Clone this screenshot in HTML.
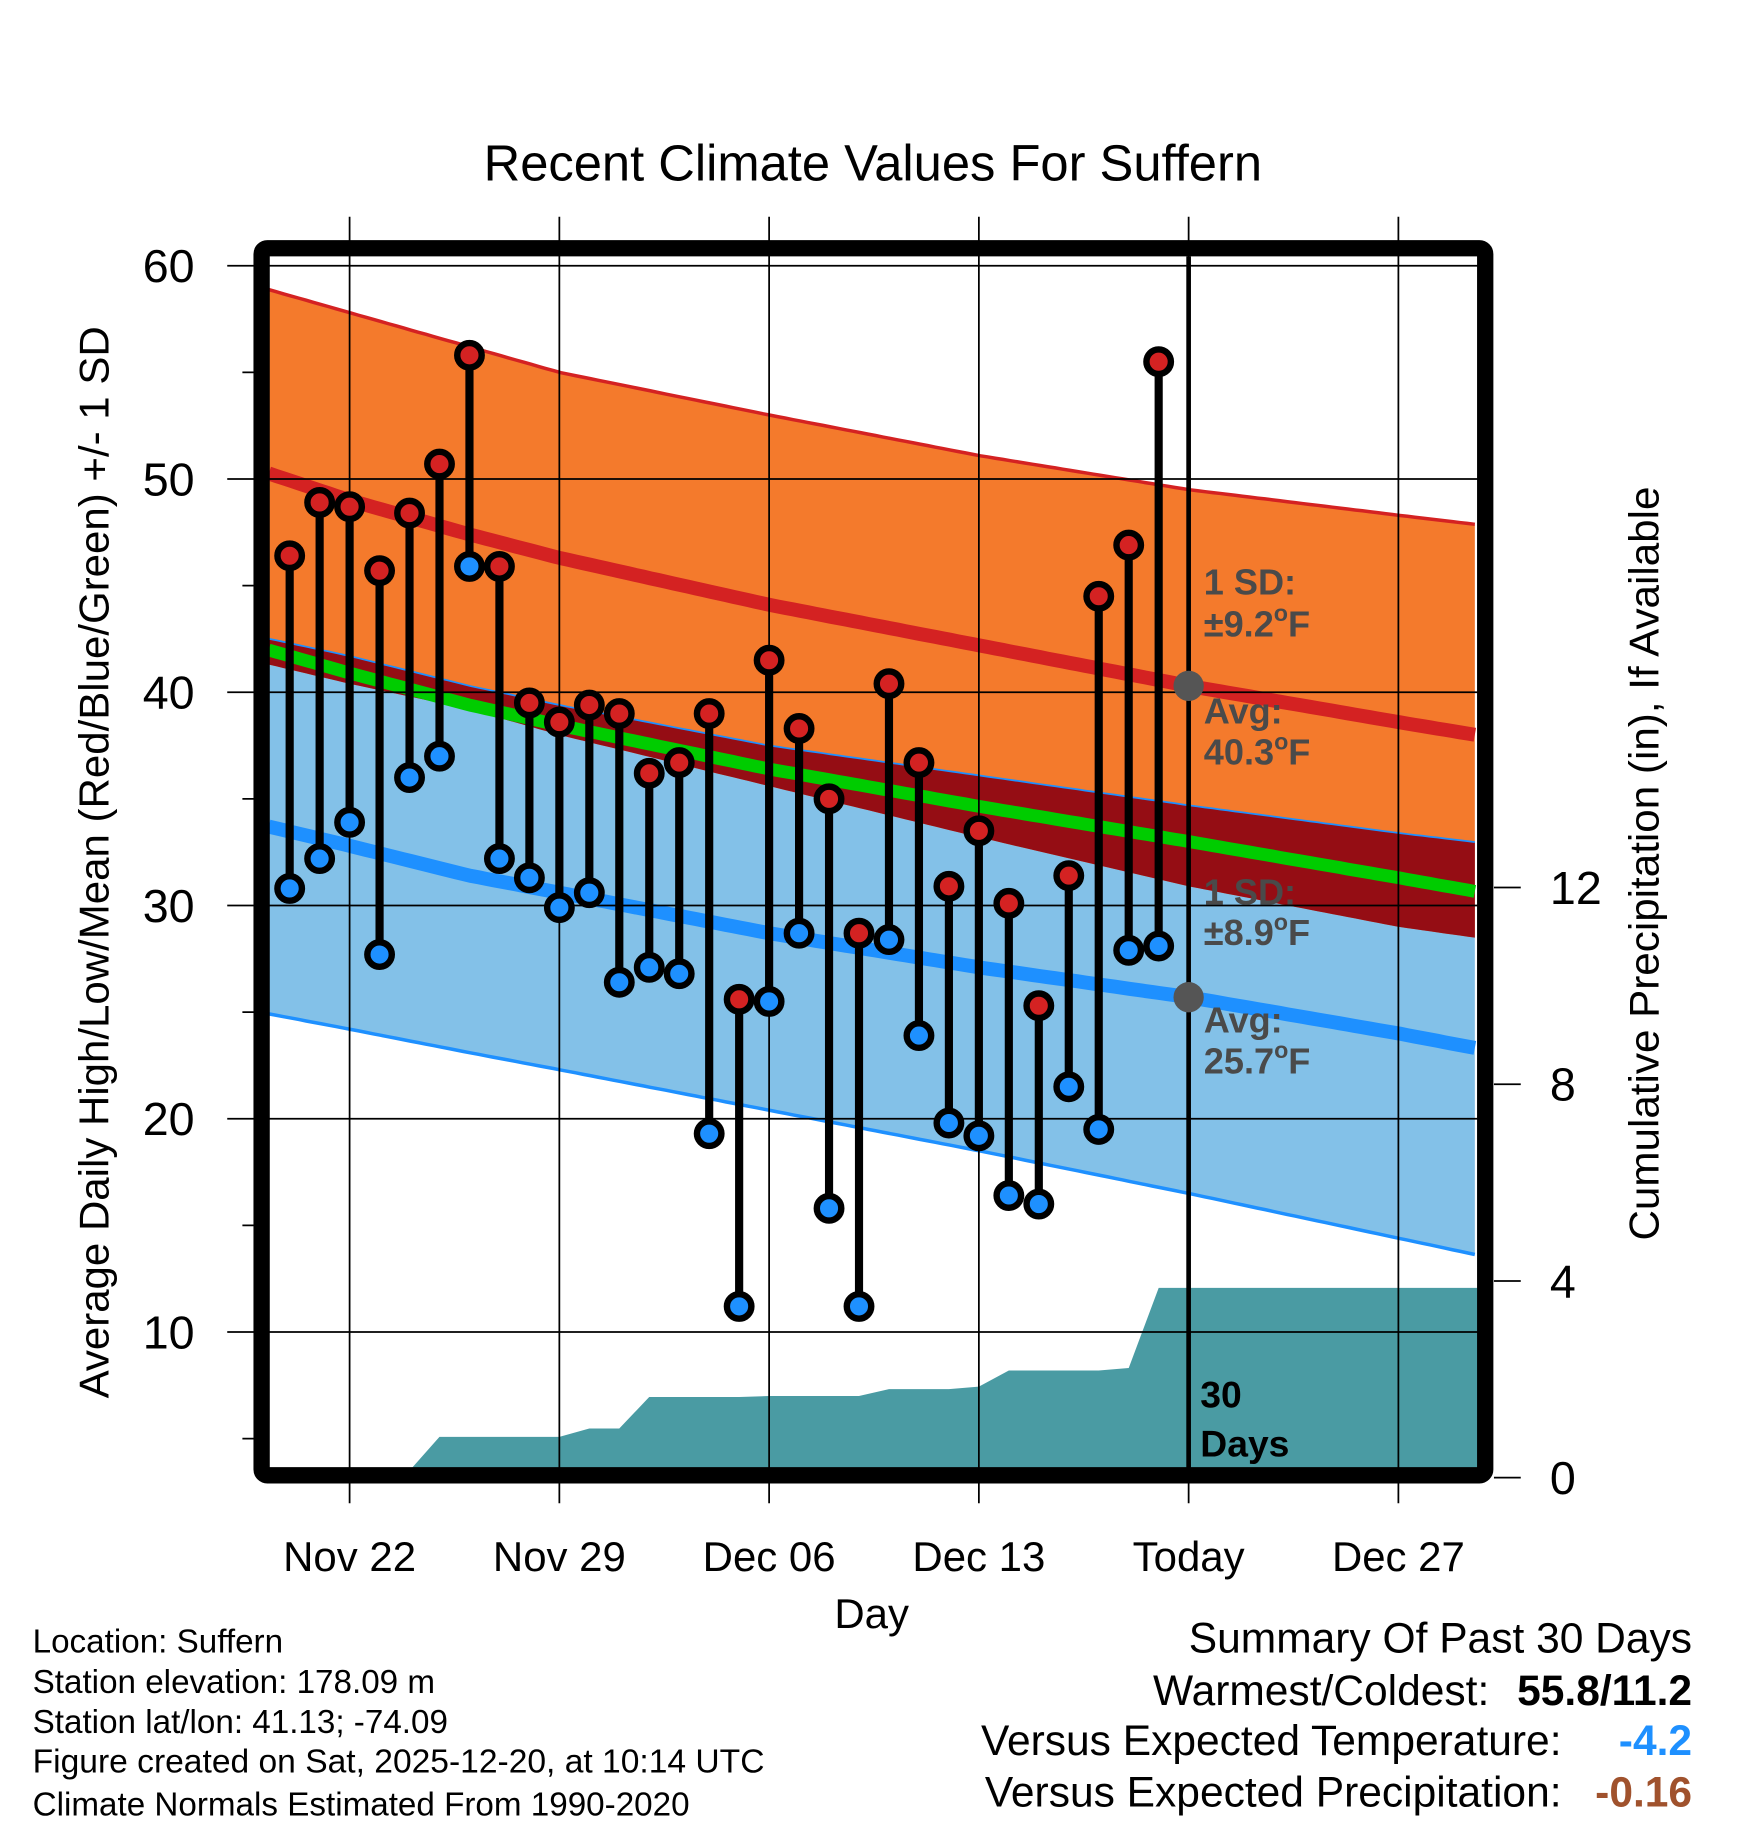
<!DOCTYPE html>
<html><head><meta charset="utf-8"><style>
html,body{margin:0;padding:0;background:#fff;}
svg{display:block;font-family:"Liberation Sans",Arial,sans-serif;}
</style></head><body>
<svg id="chart" width="1748" height="1828" viewBox="0 0 1500 1568.6" xmlns="http://www.w3.org/2000/svg">
<defs><clipPath id="plotclip"><rect x="231" y="220" width="1037" height="1040"/></clipPath></defs>
<g id="fills" clip-path="url(#plotclip)"></g>
<g id="grid"></g>
<g id="marks" clip-path="url(#plotclip)"></g>
<g id="frame"></g>
<g id="axes"></g>
<text x="749" y="155" font-size="43.5" text-anchor="middle" textLength="668" lengthAdjust="spacingAndGlyphs">Recent Climate Values For Suffern</text>
<text x="748" y="1397" font-size="36" text-anchor="middle">Day</text>
<text transform="translate(93,740) rotate(-90)" font-size="36" text-anchor="middle" textLength="920" lengthAdjust="spacingAndGlyphs">Average Daily High/Low/Mean (Red/Blue/Green) +/- 1 SD</text>
<text transform="translate(1423,741) rotate(-90)" font-size="36" text-anchor="middle" textLength="647" lengthAdjust="spacingAndGlyphs">Cumulative Precipitation (in), If Available</text>
<g font-size="28.5">
<text x="28" y="1418">Location: Suffern</text>
<text x="28" y="1453">Station elevation: 178.09 m</text>
<text x="28" y="1487">Station lat/lon: 41.13; -74.09</text>
<text x="28" y="1521" textLength="628" lengthAdjust="spacingAndGlyphs">Figure created on Sat, 2025-12-20, at 10:14 UTC</text>
<text x="28" y="1558">Climate Normals Estimated From 1990-2020</text>
</g>
<g font-size="36.5">
<text x="1452" y="1418" text-anchor="end">Summary Of Past 30 Days</text>
<text x="1278" y="1463" text-anchor="end">Warmest/Coldest:</text>
<text x="1452" y="1463" text-anchor="end" font-weight="bold">55.8/11.2</text>
<text x="1340" y="1506" text-anchor="end">Versus Expected Temperature:</text>
<text x="1452" y="1506" text-anchor="end" font-weight="bold" fill="#1e90ff">-4.2</text>
<text x="1340" y="1550" text-anchor="end">Versus Expected Precipitation:</text>
<text x="1452" y="1550" text-anchor="end" font-weight="bold" fill="#a0522d">-0.16</text>
</g>
</svg>
<script>
// days relative to Nov 22 (d=0)
const normalDays = [-3, 0, 4, 7, 14, 21, 28, 35, 38];
const highMean = [50.4, 49.0, 47.4, 46.3, 44.1, 42.2, 40.3, 38.6, 37.9];
const lowMean = [33.8, 32.8, 31.4, 30.6, 28.7, 27.1, 25.7, 24.0, 23.2];
const highUpper = [59.0, 57.8, 56.2, 55.0, 53.0, 51.1, 49.5, 48.3, 47.8];
const highLower = [41.4, 40.4, 39.2, 38.0, 35.6, 33.2, 30.9, 29.0, 28.4];
const lowUpper = [42.6, 41.7, 40.3, 39.4, 37.5, 36.1, 34.7, 33.4, 32.9];
const lowLower = [25.0, 24.2, 23.1, 22.3, 20.4, 18.5, 16.5, 14.4, 13.5];
const obsDays = [-2,-1,0,1,2,3,4,5,6,7,8,9,10,11,12,13,14,15,16,17,18,19,20,21,22,23,24,25,26,27];
const obsHigh = [46.4,48.9,48.7,45.7,48.4,50.7,55.8,45.9,39.5,38.6,39.4,39.0,36.2,36.7,39.0,25.6,41.5,38.3,35.0,28.7,40.4,36.7,30.9,33.5,30.1,25.3,31.4,44.5,46.9,55.5];
const obsLow = [30.8,32.2,33.9,27.7,36.0,37.0,45.9,32.2,31.3,29.9,30.6,26.4,27.1,26.8,19.3,11.2,25.5,28.7,15.8,11.2,28.4,23.9,19.8,19.2,16.4,16.0,21.5,19.5,27.9,28.1];
const precipCum = [0,0,0,0,0,0.83,0.83,0.83,0.83,0.83,1.0,1.0,1.64,1.64,1.64,1.64,1.66,1.66,1.66,1.66,1.8,1.8,1.8,1.85,2.18,2.18,2.18,2.18,2.23,3.86];
const xTickDays = [0,7,14,21,28,35];
const xTickLabels = ["Nov 22","Nov 29","Dec 06","Dec 13","Today","Dec 27"];
const yTicks = [10,20,30,40,50,60];
const y2Ticks = [0,4,8,12];

const NS="http://www.w3.org/2000/svg";
const X = d => 300 + 25.714*d;
const Y = v => 228 + (60 - v)*18.3;
const Y2 = p => 1268 - p*42.2;
const D0 = -2.7, D1 = 37.7;
function mk(tag, attrs, parent){const e=document.createElementNS(NS,tag);for(const k in attrs)e.setAttribute(k,attrs[k]);parent.appendChild(e);return e;}
function interp(arr,d){for(let i=0;i<normalDays.length-1;i++){if(d<=normalDays[i+1]){const t=(d-normalDays[i])/(normalDays[i+1]-normalDays[i]);return arr[i]+t*(arr[i+1]-arr[i]);}}return arr[arr.length-1];}
const samples=[];for(let d=D0;d<=D1+0.001;d+=0.25)samples.push(d);
const curve = f => samples.map(d=>[X(d),Y(f(d))]);
const pts = a => a.map(p=>p[0].toFixed(1)+','+p[1].toFixed(1)).join(' ');
const fills=document.getElementById('fills');
const hiU=curve(d=>interp(highUpper,d)), hiL=curve(d=>interp(highLower,d));
const loU=curve(d=>interp(lowUpper,d)), loL=curve(d=>interp(lowLower,d));
let e;
e=mk('polygon',{points:pts(loU.concat(loL.slice().reverse())),fill:'#83c1e8'},fills);

e=mk('polygon',{points:pts(hiU.concat(hiL.slice().reverse())),fill:'#f47a2c'},fills);

e=mk('polygon',{points:pts(loU.concat(hiL.slice().reverse())),fill:'#950d14'},fills);

e=mk('polyline',{points:pts(hiU),fill:'none',stroke:'#d42222','stroke-width':3},fills);

e=mk('polyline',{points:pts(loU),fill:'none',stroke:'#1e90ff','stroke-width':1.5},fills);

e=mk('polyline',{points:pts(loL),fill:'none',stroke:'#1e90ff','stroke-width':3},fills);

e=mk('polyline',{points:pts(curve(d=>interp(highMean,d))),fill:'none',stroke:'#d42222','stroke-width':12},fills);

e=mk('polyline',{points:pts(curve(d=>interp(lowMean,d))),fill:'none',stroke:'#1e90ff','stroke-width':12},fills);

e=mk('polyline',{points:pts(curve(d=>(interp(highMean,d)+interp(lowMean,d))/2)),fill:'none',stroke:'#00cc00','stroke-width':11},fills);

// precip
const pp=[[X(obsDays[0]-1),1262]];
obsDays.forEach((d,i)=>pp.push([X(d),Math.min(Y2(precipCum[i]),1262)]));
pp.push([X(D1),Y2(precipCum[precipCum.length-1])]);pp.push([X(D1),1262]);
e=mk('polygon',{points:pts(pp),fill:'#4a9ba3'},fills);

// grid
const grid=document.getElementById('grid');
yTicks.forEach(v=>{e=mk('line',{x1:231,x2:1268,y1:Y(v),y2:Y(v),stroke:'#000','stroke-width':1.5},grid);
});
xTickDays.forEach(d=>{e=mk('line',{x1:X(d),x2:X(d),y1:186,y2:1290,stroke:'#000','stroke-width':1.5},grid);
});
// marks
const marks=document.getElementById('marks');
e=mk('line',{x1:X(28),x2:X(28),y1:220,y2:1260,stroke:'#000','stroke-width':4},marks);

obsDays.forEach((d,i)=>{
 e=mk('line',{x1:X(d),x2:X(d),y1:Y(obsHigh[i]),y2:Y(obsLow[i]),stroke:'#000','stroke-width':7},marks);
 
});
obsDays.forEach((d,i)=>{
 e=mk('circle',{cx:X(d),cy:Y(obsLow[i]),r:10.5,fill:'#1e90ff',stroke:'#000','stroke-width':5.5},marks);
 
 e=mk('circle',{cx:X(d),cy:Y(obsHigh[i]),r:10.5,fill:'#d42222',stroke:'#000','stroke-width':5.5},marks);
 
});
e=mk('circle',{cx:X(28),cy:Y(interp(highMean,28)),r:13,fill:'#555'},marks);

e=mk('circle',{cx:X(28),cy:Y(interp(lowMean,28)),r:13,fill:'#555'},marks);

const ann=[["1 SD:",510,false],["±9.2","F",546],["Avg:",621,false],["40.3","F",656],["1 SD:",776,false],["±8.9","F",811],["Avg:",886,false],["25.7","F",921]];
ann.forEach(a=>{const y=a.length===3&&a[2]!==false?a[2]:a[1];
 e=mk('text',{x:1033,y:y,'font-size':31,'font-weight':'bold',fill:'#4a4a4a'},marks);
 
 if(a[2]===false){e.textContent=a[0];}
 else{e.appendChild(document.createTextNode(a[0]));
  const s=mk('tspan',{'font-size':20,dy:-13},e);s.textContent='o';
  const f=mk('tspan',{dy:13},e);f.textContent=a[1];}
});
[["30",1208],["Days",1250]].forEach(a=>{e=mk('text',{x:1030,y:a[1],'font-size':32,'font-weight':'bold',fill:'#000'},marks);e.textContent=a[0];
});
// frame
const frame=document.getElementById('frame');
e=mk('rect',{x:224.5,y:213,width:1050,height:1053,rx:5,fill:'none',stroke:'#000','stroke-width':14},frame);

// axes
const axes=document.getElementById('axes');
yTicks.forEach(v=>{e=mk('line',{x1:195,x2:218,y1:Y(v),y2:Y(v),stroke:'#000','stroke-width':1.5},axes);

e=mk('text',{x:167,y:Y(v)+14,'font-size':40,'text-anchor':'end'},axes);e.textContent=v;

e=mk('line',{x1:208,x2:218,y1:Y(v-5),y2:Y(v-5),stroke:'#000','stroke-width':1.5},axes);
});
y2Ticks.forEach(p=>{e=mk('line',{x1:1282,x2:1305,y1:Y2(p),y2:Y2(p),stroke:'#000','stroke-width':1.5},axes);

e=mk('text',{x:1330,y:Y2(p)+14,'font-size':40},axes);e.textContent=p;
});
xTickDays.forEach((d,i)=>{e=mk('text',{x:X(d),y:1348,'font-size':36,'text-anchor':'middle'},axes);
e.textContent=xTickLabels[i];
});
</script>
</body></html>
